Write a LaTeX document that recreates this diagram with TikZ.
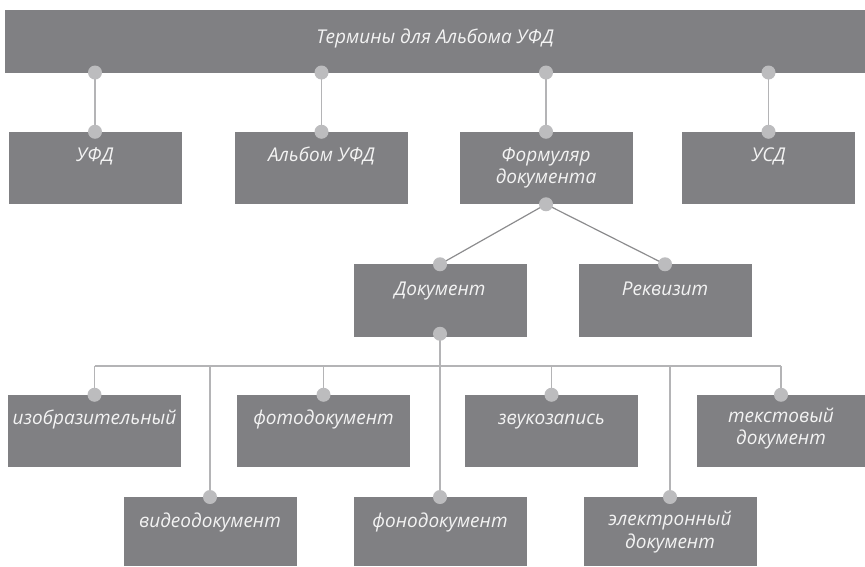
\documentclass[tikz,border=0pt]{standalone}
\usepackage{fontspec}
\setmainfont{Open Sans}
\usetikzlibrary{calc}
\definecolor{boxgray}{RGB}{128,128,131}
\definecolor{txt}{RGB}{243,243,243}
\definecolor{dotgray}{RGB}{188,188,190}
\definecolor{linegray}{RGB}{180,180,182}
\definecolor{diaggray}{RGB}{140,140,142}
\begin{document}
\begin{tikzpicture}[x=1pt,y=-1pt,
  box/.style={fill=boxgray, inner sep=0pt, outer sep=0pt, minimum width=173pt, minimum height=72.5pt},
  lbl/.style={anchor=base, inner sep=0pt, text=txt, font=\itshape\fontsize{19}{22.5}\selectfont},
  conn/.style={draw=linegray, line width=1.6pt},
  diag/.style={draw=diaggray, line width=1.2pt},
  dotc/.style={fill=dotgray}]
\useasboundingbox (0,0) rectangle (865,566);

% boxes
\node[box, minimum width=860pt, minimum height=62.5pt] (topbar) at (435,41.25) {};
\node[box] (ufd)   at (95,168) {};
\node[box] (album) at (321.5,168) {};
\node[box] (form)  at (546,168) {};
\node[box] (usd)   at (768.5,168) {};
\node[box] (dok)   at (440,300.5) {};
\node[box] (rekv)  at (665,300.5) {};
\node[box] (izo)   at (94.5,431) {};
\node[box] (foto)  at (323.5,431) {};
\node[box] (zvuk)  at (551.5,431) {};
\node[box, minimum width=168pt] (textd) at (781,431) {};
\node[box, minimum height=69pt] (video) at (210,531.5) {};
\node[box, minimum height=69pt] (fono)  at (440,531.5) {};
\node[box, minimum height=69pt] (elek)  at (670,531.5) {};

% connectors
\foreach \b in {ufd,album,form,usd}{
  \draw[conn] (topbar.south -| \b.north) -- (\b.north);
}
\draw[diag] (form.south) -- (dok.north);
\draw[diag] (form.south) -- (rekv.north);
\coordinate (bus) at (0,366);
\draw[conn] (dok.south) -- (fono.north);
\draw[conn] (izo.north |- bus) -- (textd.north |- bus);
\foreach \b in {izo,foto,zvuk,textd,video,elek}{
  \draw[conn] (\b.north |- bus) -- (\b.north);
}

% dots
\foreach \b in {ufd,album,form,usd}{
  \fill[dotc] (topbar.south -| \b.north) circle[radius=7pt];
  \fill[dotc] (\b.north) circle[radius=7pt];
}
\foreach \b in {dok,rekv,izo,foto,zvuk,textd,video,fono,elek}{
  \fill[dotc] (\b.north) circle[radius=7pt];
}
\fill[dotc] (form.south) circle[radius=7pt];
\fill[dotc] ([yshift=3pt]dok.south) circle[radius=7pt];

% labels
\node[lbl] (topbar-t) at ([yshift=-33pt]topbar.north) {Термины для Альбома УФД};
\node[lbl] (ufd-t)   at ([yshift=-30pt]ufd.north) {УФД};
\node[lbl] (album-t) at ([yshift=-30pt]album.north) {Альбом УФД};
\node[lbl] (form-t)  at ([yshift=-29.5pt]form.north) {\begin{tabular}[t]{@{}c@{}}Формуляр\\документа\end{tabular}};
\node[lbl] (usd-t)   at ([yshift=-30pt]usd.north) {УСД};
\node[lbl] (dok-t)   at ([yshift=-31pt]dok.north) {Документ};
\node[lbl] (rekv-t)  at ([yshift=-31pt]rekv.north) {Реквизит};
\node[lbl] (izo-t)   at ([yshift=-30pt]izo.north) {изобразительный};
\node[lbl] (foto-t)  at ([yshift=-30pt]foto.north) {фотодокумент};
\node[lbl] (zvuk-t)  at ([yshift=-30pt]zvuk.north) {звукозапись};
\node[lbl] (textd-t) at ([yshift=-27.5pt]textd.north) {\begin{tabular}[t]{@{}c@{}}текстовый\\документ\end{tabular}};
\node[lbl] (video-t) at ([yshift=-30pt]video.north) {видеодокумент};
\node[lbl] (fono-t)  at ([yshift=-30pt]fono.north) {фонодокумент};
\node[lbl] (elek-t)  at ([yshift=-28.5pt]elek.north) {\begin{tabular}[t]{@{}c@{}}электронный\\документ\end{tabular}};
\end{tikzpicture}
\end{document}
